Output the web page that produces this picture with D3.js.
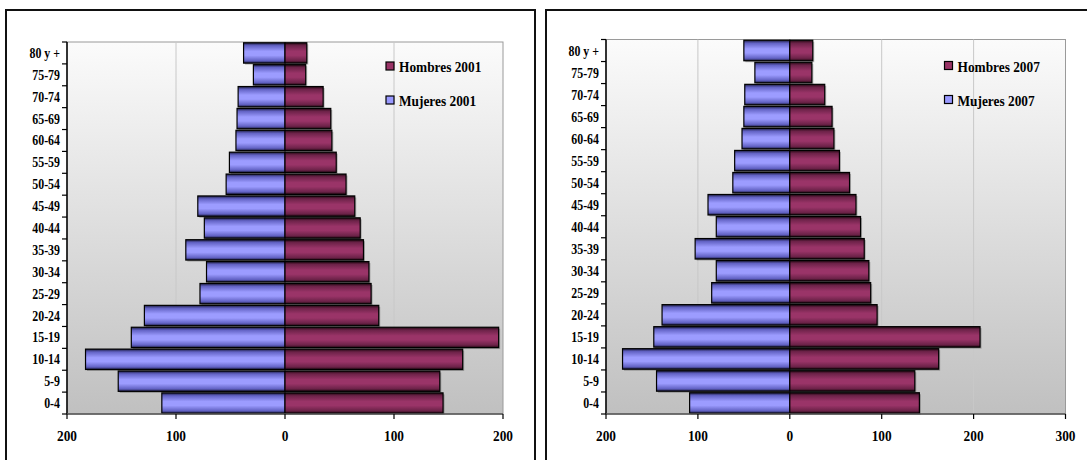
<!DOCTYPE html>
<html>
<head>
<meta charset="utf-8">
<script src="https://cdn.jsdelivr.net/npm/d3@7"></script>
<style>
  html, body { margin: 0; padding: 0; background: #fff; }
  svg { display: block; }
  text { font-family: "Liberation Serif", "Times New Roman", serif; font-weight: bold; fill: #000; }
</style>
</head>
<body>
<svg id="chart" width="1087" height="460"></svg>
<script>
// ---- Data (bottom to top) ----
const ageGroups = ["0-4","5-9","10-14","15-19","20-24","25-29","30-34","35-39","40-44","45-49","50-54","55-59","60-64","65-69","70-74","75-79","80 y +"];
const mujeres2001 = [113,153,183,141,129,78,72,91,74,80,54,51,45,44,43,29,38];
const hombres2001 = [145,142,163,196,86,79,77,72,69,64,56,47,43,42,35,19,20];
const mujeres2007 = [109,145,182,148,139,85,80,103,80,89,62,60,52,50,49,38,50];
const hombres2007 = [141,136,162,207,95,88,86,81,77,72,65,54,48,46,38,24,25];
const ticks2001 = [-200,-100,0,100,200];
const ticks2007 = [-200,-100,0,100,200,300];
const grid2001 = [-100,100];
const grid2007 = [-100,100,200];
const legend2001 = ["Hombres 2001","Mujeres 2001"];
const legend2007 = ["Hombres 2007","Mujeres 2007"];

const svg = d3.select("#chart");
const defs = svg.append("defs");

// background gradient
const bg = defs.append("linearGradient").attr("id","bgGrad").attr("x1",0).attr("y1",0).attr("x2",0).attr("y2",1);
bg.append("stop").attr("offset","0%").attr("stop-color","#fbfbfb");
bg.append("stop").attr("offset","100%").attr("stop-color","#c0c0c0");

function barGrad(id, dark, mid, light) {
  const g = defs.append("linearGradient").attr("id",id).attr("x1",0).attr("y1",0).attr("x2",0).attr("y2",1);
  [[0,dark],[0.14,mid],[0.42,light],[0.62,light],[0.88,mid],[1,dark]].forEach(s =>
    g.append("stop").attr("offset", s[0]).attr("stop-color", s[1]));
}
barGrad("gF", "#1c1c40", "#6262c4", "#9c9cff");
barGrad("gM", "#220812", "#6c2248", "#9a3468");

function pyramid(o) {
  const g = svg.append("g");
  // outer frame
  g.append("rect").attr("x",o.frame[0]).attr("y",o.frame[1]).attr("width",o.frame[2]).attr("height",o.frame[3])
    .attr("fill","#fff").attr("stroke","#111").attr("stroke-width",2);

  const x = d3.scaleLinear().domain(o.domain).range([o.left, o.right]);
  const y = d3.scaleBand().domain(ageGroups.slice().reverse()).range([o.top, o.bottom]).paddingInner(0.07).paddingOuter(0.035);

  // plot area
  g.append("rect").attr("x",o.left).attr("y",o.top).attr("width",o.right-o.left).attr("height",o.bottom-o.top)
    .attr("fill","url(#bgGrad)").attr("stroke","#9a9a9a").attr("stroke-width",1);

  // gridlines
  g.selectAll(".grid").data(o.grid).enter().append("line")
    .attr("x1",d=>x(d)).attr("x2",d=>x(d)).attr("y1",o.top).attr("y2",o.bottom)
    .attr("stroke","#c8c8c8").attr("stroke-width",1);

  // bars
  const series = [
    {vals: o.mujeres, sign: -1, grad: "url(#gF)"},
    {vals: o.hombres, sign: 1, grad: "url(#gM)"}
  ];
  series.forEach(s => {
    const data = ageGroups.map((a,i)=>({a, v: s.vals[i]*s.sign}));
    // shadow
    g.append("g").selectAll("rect").data(data).enter().append("rect")
      .attr("x", d => Math.min(x(0), x(d.v)) + 1.5)
      .attr("y", d => y(d.a) + 1.5)
      .attr("width", d => Math.abs(x(d.v)-x(0)))
      .attr("height", y.bandwidth())
      .attr("fill","#000").attr("opacity",0.25);
    g.append("g").selectAll("rect").data(data).enter().append("rect")
      .attr("x", d => Math.min(x(0), x(d.v)))
      .attr("y", d => y(d.a))
      .attr("width", d => Math.abs(x(d.v)-x(0)))
      .attr("height", y.bandwidth())
      .attr("fill", s.grad).attr("stroke","#000").attr("stroke-width",1.2);
  });

  // left axis
  g.append("line").attr("x1",o.left).attr("x2",o.left).attr("y1",o.top).attr("y2",o.bottom).attr("stroke","#000").attr("stroke-width",1.5);
  const bounds = d3.range(ageGroups.length+1).map(i => o.top + i*(o.bottom-o.top)/ageGroups.length);
  g.selectAll(".yt").data(bounds).enter().append("line")
    .attr("x1",o.left-5).attr("x2",o.left).attr("y1",d=>d).attr("y2",d=>d).attr("stroke","#000").attr("stroke-width",1.2);
  g.selectAll(".yl").data(ageGroups).enter().append("text")
    .attr("transform", d => `translate(${o.left-7},${y(d)+y.bandwidth()/2+5}) scale(0.85,1)`)
    .attr("text-anchor","end").style("font-size","14px").text(d=>d);

  // bottom axis
  g.append("line").attr("x1",o.left).attr("x2",o.right).attr("y1",o.bottom).attr("y2",o.bottom).attr("stroke","#555").attr("stroke-width",1.5);
  g.selectAll(".xt").data(o.ticks).enter().append("line")
    .attr("x1",d=>x(d)).attr("x2",d=>x(d)).attr("y1",o.bottom).attr("y2",o.bottom+5).attr("stroke","#000").attr("stroke-width",1.2);
  g.selectAll(".xl").data(o.ticks).enter().append("text")
    .attr("transform", d => `translate(${x(d)},${o.bottom+27}) scale(0.89,1)`)
    .attr("text-anchor","middle").style("font-size","15px").text(d=>Math.abs(d));

  // legend
  const cols = ["#993366","#9999ff"];
  o.legend.forEach((t,i) => {
    const ly = o.legY + i*34;
    g.append("rect").attr("x",o.legX).attr("y",ly-4.5).attr("width",8).attr("height",8)
      .attr("fill",cols[i]).attr("stroke","#000").attr("stroke-width",1.2);
    g.append("text").attr("transform",`translate(${o.legX+13},${ly+5.5}) scale(0.89,1)`)
      .style("font-size","15px").text(t);
  });
}

pyramid({
  frame:[6,10,529,470], left:67, right:503, top:42, bottom:414,
  domain:[-200,200], ticks:ticks2001, grid:grid2001,
  mujeres:mujeres2001, hombres:hombres2001, legend:legend2001, legX:386, legY:66.5
});
pyramid({
  frame:[546,10,560,470], left:606, right:1065.5, top:39.5, bottom:414,
  domain:[-200,300], ticks:ticks2007, grid:grid2007,
  mujeres:mujeres2007, hombres:hombres2007, legend:legend2007, legX:944.5, legY:66
});
</script>
</body>
</html>
